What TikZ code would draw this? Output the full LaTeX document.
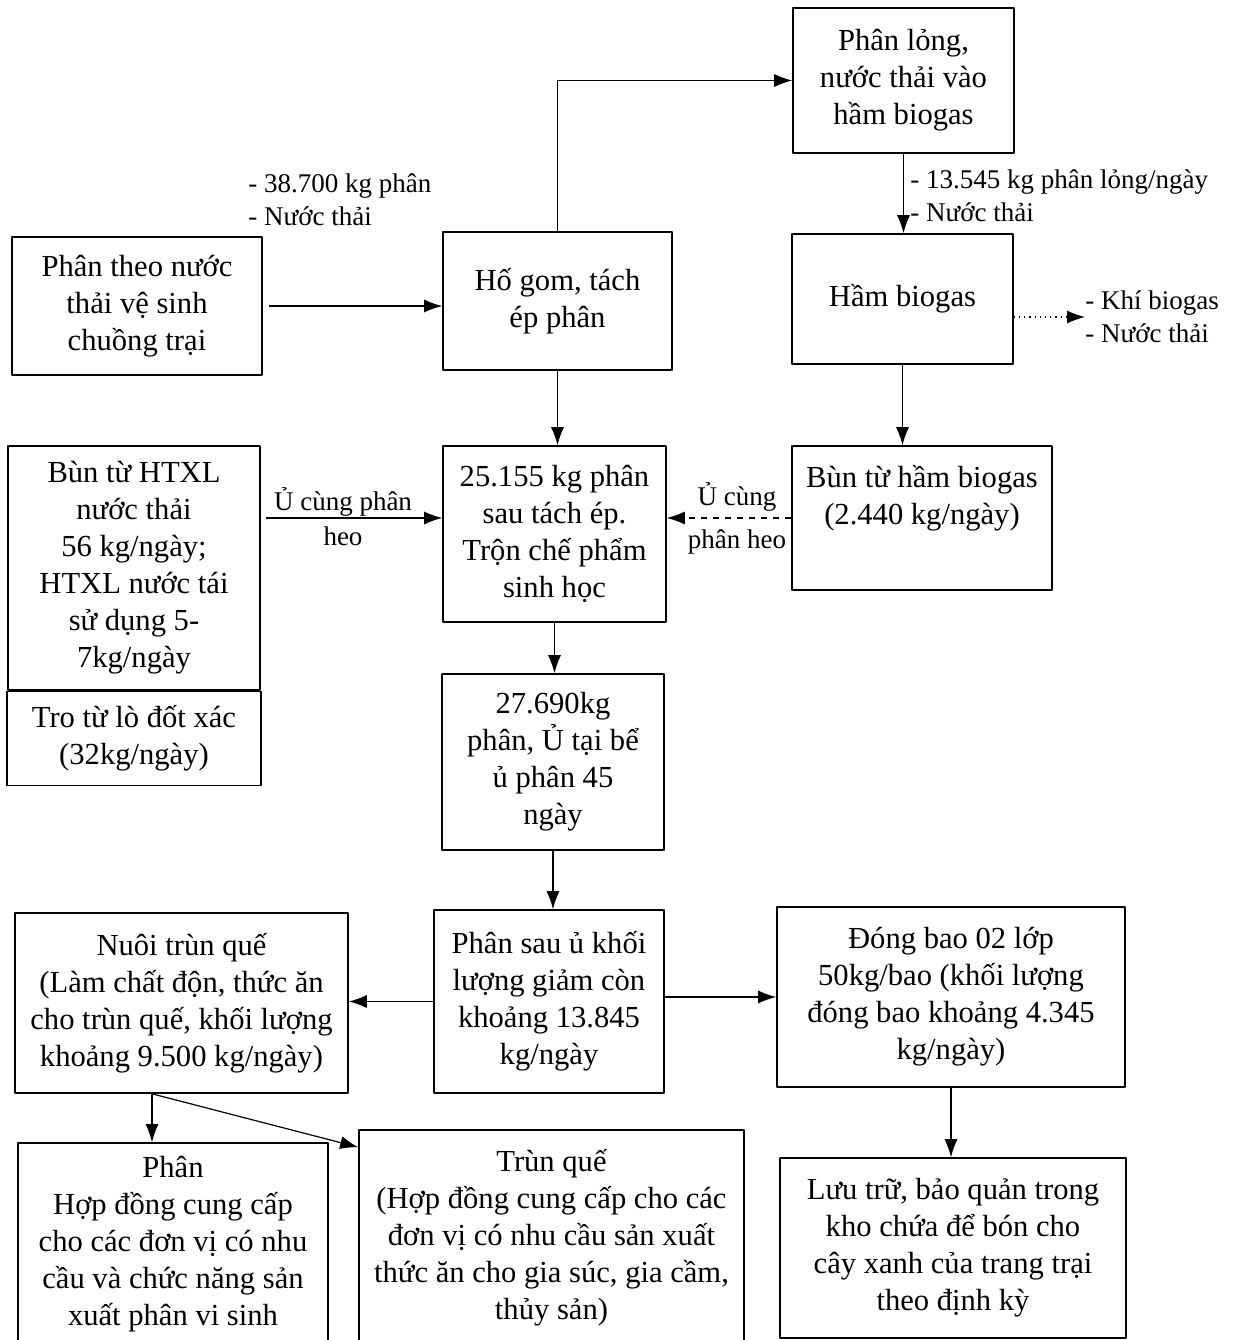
\documentclass[tikz,border=0pt]{standalone}
\usepackage{fontspec}
\setmainfont{Liberation Serif}
\usetikzlibrary{%
  arrows.meta,% Latex tips
  positioning% wg. " of "
}

\begin{document}
\begin{tikzpicture}[
    x=0.5pt,y=-0.5pt,
    >={Latex[length=9pt,width=6.5pt]},
    line join=round,
    box/.style={rectangle,draw,line width=0.8pt,inner sep=0pt,align=center,
        font=\fontsize{15.3}{18.5}\selectfont},
    note/.style={inner sep=0pt,align=left,font=\fontsize{13.5}{16.5}\selectfont},
    flow/.style={->,line width=0.6pt}
  ]
    \clip (0,0) rectangle (1247,1340);

    % thu gom, tach ep
    \node (src) [box,minimum width=125pt,minimum height=69pt] at (137,306)
        {Phân theo nước\\thải vệ sinh\\chuồng trại};
    \node (hogom) [box,minimum width=114.5pt,minimum height=69pt] at (557.5,301)
        {Hố gom, tách\\ép phân};
    \node (phanlong) [box,minimum width=110.5pt,minimum height=72.5pt] at (903.5,80.5)
        {Phân lỏng,\\nước thải vào\\hầm biogas};
    \node (biogas) [box,minimum width=110.5pt,minimum height=65pt] at (902.5,299)
        {Hầm biogas};
    \node (bunbiogas) [box,minimum width=130pt,minimum height=72pt] at (922,518)
        {Bùn từ hầm biogas\\(2.440 kg/ngày)\\[4.5pt]\mbox{}};

    % u phan
    \node (bunhtxl) [box,minimum width=126pt,minimum height=122pt] at (134,568)
        {Bùn từ HTXL\\nước thải\\56 kg/ngày;\\HTXL nước tái\\sử dụng 5-\\7kg/ngày};
    \node (tro) [box,minimum width=127pt,minimum height=47pt,below=0pt of bunhtxl]
        {Tro từ lò đốt xác\\(32kg/ngày)};
    \node (tron) [box,minimum width=111.5pt,minimum height=88pt] at (554.5,534)
        {25.155 kg phân\\sau tách ép.\\Trộn chế phẩm\\sinh học};
    \node (u45) [box,minimum width=111pt,minimum height=88pt] at (553,762)
        {27.690kg\\phân, Ủ tại bể\\ủ phân 45\\ngày};

    % san pham
    \node (sau) [box,minimum width=115pt,minimum height=91.5pt] at (549,1001.5)
        {Phân sau ủ khối\\lượng giảm còn\\khoảng 13.845\\kg/ngày};
    \node (trunque) [box,minimum width=166.5pt,minimum height=90pt] at (181.5,1003)
        {Nuôi trùn quế\\(Làm chất độn, thức ăn\\cho trùn quế, khối lượng\\khoảng 9.500 kg/ngày)};
    \node (dongbao) [box,minimum width=174pt,minimum height=90pt] at (951,997)
        {Đóng bao 02 lớp\\50kg/bao (khối lượng\\đóng bao khoảng 4.345\\kg/ngày)};
    \node (phan) [box,minimum width=155pt,minimum height=101pt] at (173,1244)
        {Phân\\Hợp đồng cung cấp\\cho các đơn vị có nhu\\cầu và chức năng sản\\xuất phân vi sinh};
    \node (trunque2) [box,minimum width=192.5pt,minimum height=107.5pt] at (551.5,1237.5)
        {Trùn quế\\(Hợp đồng cung cấp cho các\\đơn vị có nhu cầu sản xuất\\thức ăn cho gia súc, gia cầm,\\thủy sản)};
    \node (luutru) [box,minimum width=173pt,minimum height=90pt] at (953,1248)
        {Lưu trữ, bảo quản trong\\kho chứa để bón cho\\cây xanh của trang trại\\theo định kỳ};

    % ghi chu
    \node (in38) [note,anchor=west] at (248,200) {- 38.700 kg phân\\- Nước thải};
    \node (in13) [note,anchor=west] at (910,196) {- 13.545 kg phân lỏng/ngày\\- Nước thải};
    \node (out) [note,anchor=west] at (1085,317) {- Khí biogas\\- Nước thải};
    \node (mixl) [note,align=center,font=\fontsize{13.5}{17.5}\selectfont] at (343,517)
        {Ủ cùng phân\\heo};
    \node (mixr) [note,align=center,font=\fontsize{13.5}{21.5}\selectfont] at (737,518.5)
        {Ủ cùng\\phân heo};

    \draw[flow,shorten <=3pt] (src.east) -- (src.east -| hogom.west);
    \draw[flow] (hogom.north) |- (phanlong.west);
    \draw[flow] (phanlong.south) -- (phanlong.south |- biogas.north);
    \draw[flow,dotted] (biogas.east |- out.west) -- (out.west);
    \draw[flow] (biogas.south) -- (biogas.south |- bunbiogas.north);
    \draw[flow] (hogom.south) -- (hogom.south |- tron.north);
    \draw[flow,shorten <=2.5pt] (bunhtxl.east |- bunbiogas.west) -- (tron.west |- bunbiogas.west);
    \draw[flow,dashed] (bunbiogas.west) -- (tron.east |- bunbiogas.west);
    \draw[flow] (tron.south) -- (tron.south |- u45.north);
    \draw[flow] (u45.south) -- (u45.south |- sau.north);
    \draw[flow] (sau.west) -- (sau.west -| trunque.east);
    \draw[flow] (sau.east |- dongbao.west) -- (dongbao.west);
    \draw[flow] (dongbao.south) -- (dongbao.south |- luutru.north);
    \coordinate (split) at ([xshift=-14.75pt]trunque.south);
    \draw[flow] (split) -- (split |- phan.north);
    \draw[flow] (split) -- ([yshift=-9pt]trunque2.north west);
\end{tikzpicture}
\end{document}
